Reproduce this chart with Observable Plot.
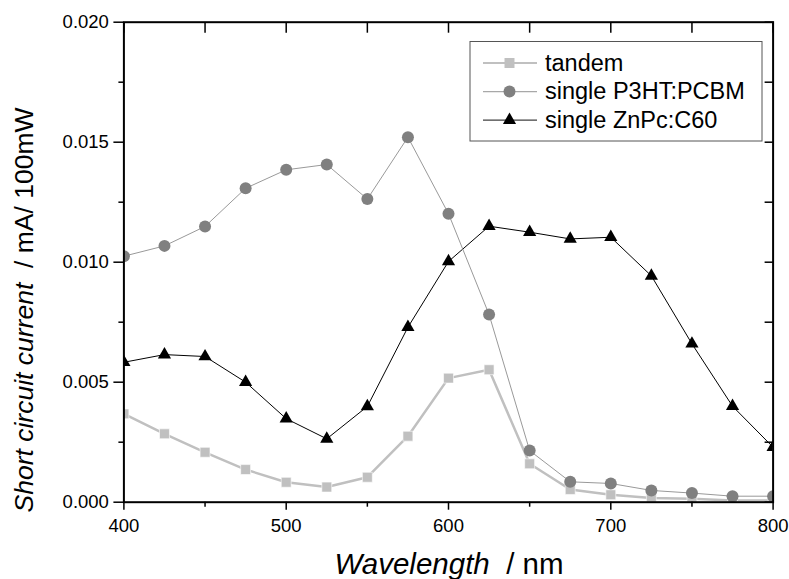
<!DOCTYPE html>
<html>
<head>
<meta charset="utf-8">
<script src="https://cdn.jsdelivr.net/npm/d3@7"></script>
<script src="https://cdn.jsdelivr.net/npm/@observablehq/plot@0.6"></script>
<style>
  html, body { margin: 0; padding: 0; background: #fff; }
  svg { display: block; }
</style>
</head>
<body>
<div id="chart"></div>
<script>
const wavelength = [400, 425, 450, 475, 500, 525, 550, 575, 600, 625, 650, 675, 700, 725, 750, 775, 800];
const tandem = [0.00368, 0.00285, 0.00208, 0.00136, 0.00083, 0.00063, 0.00104, 0.00275, 0.00517, 0.00552, 0.00160, 0.00053, 0.00031, 0.00018, 0.00014, 0.00007, 0.00007];
const p3ht = [0.01025, 0.01068, 0.01149, 0.01308, 0.01385, 0.01407, 0.01263, 0.01521, 0.01202, 0.00782, 0.00215, 0.00085, 0.00078, 0.00049, 0.00038, 0.00025, 0.00025];
const znpc = [0.00583, 0.00615, 0.00607, 0.00500, 0.00348, 0.00264, 0.00399, 0.00729, 0.01003, 0.01150, 0.01125, 0.01097, 0.01104, 0.00943, 0.00660, 0.00400, 0.00229];
const seriesNames = ["tandem", "single P3HT:PCBM", "single ZnPc:C60"];
const xMajor = [400, 500, 600, 700, 800];
const xMinor = [450, 550, 650, 750];
const xAll = [400, 450, 500, 550, 600, 650, 700, 750, 800];
const yMajor = [0, 0.005, 0.010, 0.015, 0.020];
const yMinor = [0.0025, 0.0075, 0.0125, 0.0175];
const yAll = [0, 0.0025, 0.005, 0.0075, 0.010, 0.0125, 0.015, 0.0175, 0.020];

const mk = (vals) => wavelength.map((w, i) => ({w, v: vals[i]}));
const dT = mk(tandem), dP = mk(p3ht), dZ = mk(znpc);

const font = "'Liberation Sans', Arial, sans-serif";
const noLabel = () => "";

const plot = Plot.plot({
  width: 789,
  height: 579,
  marginLeft: 123.4,
  marginRight: 16.4,
  marginTop: 21.7,
  marginBottom: 77.3,
  style: {fontFamily: font, fontSize: "18px", color: "#000", background: "#fff"},
  x: {domain: [400, 800]},
  y: {domain: [0, 0.020]},
  marks: [
    Plot.line(dT, {x: "w", y: "v", stroke: "#c0c0c0", strokeWidth: 2.5, clip: true}),
    Plot.dot(dT, {x: "w", y: "v", symbol: "square", r: 5.6, fill: "#c0c0c0", stroke: "#fff", strokeWidth: 0.6, clip: true}),
    Plot.line(dZ, {x: "w", y: "v", stroke: "#000", strokeWidth: 1, clip: true}),
    Plot.dot(dZ, {x: "w", y: "v", symbol: "triangle", r: 4.9, fill: "#000", clip: true}),
    Plot.line(dP, {x: "w", y: "v", stroke: "#999", strokeWidth: 1, clip: true}),
    Plot.dot(dP, {x: "w", y: "v", symbol: "circle", r: 6, fill: "#808080", clip: true}),
    Plot.axisX({anchor: "bottom", ticks: xMajor, tickSize: 8, tickPadding: 9, label: null, tickFormat: d => String(d), strokeWidth: 1.5, fontSize: 18.5}),
    Plot.axisX({anchor: "bottom", ticks: xMinor, tickSize: 5, tickFormat: noLabel, label: null, strokeWidth: 1.5}),
    Plot.axisX({anchor: "top", ticks: xAll, tickSize: -10, tickFormat: noLabel, label: null, strokeWidth: 1.5}),
    Plot.axisY({anchor: "left", ticks: yMajor, tickSize: 10, tickPadding: 5, label: null, tickFormat: d3.format(".3f"), strokeWidth: 1.5, fontSize: 18.5}),
    Plot.axisY({anchor: "left", ticks: yMinor, tickSize: 5, tickFormat: noLabel, label: null, strokeWidth: 1.5}),
    Plot.axisY({anchor: "right", ticks: yAll, tickSize: -9, tickFormat: noLabel, label: null, strokeWidth: 1.5}),
    Plot.frame({stroke: "#000", strokeWidth: 2})
  ]
});

document.getElementById("chart").appendChild(plot);

const svg = d3.select(plot);
const xs = plot.scale("x"), ys = plot.scale("y");
const pLeft = xs.range[0], pRight = xs.range[1];

const xt = svg.append("text")
  .attr("x", (pLeft + pRight) / 2 + 1)
  .attr("y", 574)
  .attr("text-anchor", "middle")
  .attr("font-family", font)
  .attr("font-size", 29.5)
  .attr("fill", "#000");
xt.append("tspan").attr("font-style", "italic").text("Wavelength");
xt.append("tspan").style("white-space", "pre").text("  / nm");

const yt = svg.append("text")
  .attr("transform", `translate(33,310) rotate(-90)`)
  .attr("text-anchor", "middle")
  .attr("font-family", font)
  .attr("font-size", 26.5)
  .attr("fill", "#000");
yt.append("tspan").attr("font-style", "italic").text("Short circuit current");
yt.append("tspan").style("white-space", "pre").text("  / mA/ 100mW");

const lg = svg.append("g").attr("transform", "translate(470,41.5)");
lg.append("rect").attr("width", 292).attr("height", 99.5).attr("fill", "#fff").attr("stroke", "#555").attr("stroke-width", 1);
const styles = [
  {stroke: "#c0c0c0", sw: 2, sym: d3.symbolSquare, size: 100, fill: "#c0c0c0"},
  {stroke: "#a8a8a8", sw: 1.2, sym: d3.symbolCircle, size: Math.PI * 36, fill: "#808080"},
  {stroke: "#404040", sw: 1.2, sym: d3.symbolTriangle, size: 75, fill: "#000"}
];
seriesNames.forEach((name, i) => {
  const cy = 21.5 + i * 28.6;
  const s = styles[i];
  lg.append("line").attr("x1", 13).attr("x2", 67).attr("y1", cy).attr("y2", cy)
    .attr("stroke", s.stroke).attr("stroke-width", s.sw);
  lg.append("path").attr("d", d3.symbol(s.sym, s.size)()).attr("transform", `translate(39.5,${cy})`)
    .attr("fill", s.fill);
  lg.append("text").attr("x", 75).attr("y", cy + 7.5).attr("text-anchor", "start")
    .attr("font-family", font).attr("font-size", 23.5)
    .attr("fill", "#000").text(name);
});
</script>
</body>
</html>
